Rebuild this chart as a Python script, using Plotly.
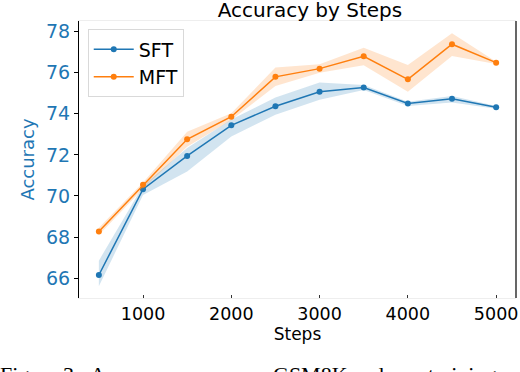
import plotly.graph_objects as go

# steps on the x axis
steps = [500, 1000, 1500, 2000, 2500, 3000, 3500, 4000, 4500, 5000]

# mean accuracy and band edges
sft_mean = [66.15, 70.33, 71.95, 73.44, 74.37, 75.07, 75.28, 74.50, 74.73, 74.32]
sft_upper = [66.85, 70.50, 72.33, 73.72, 74.80, 75.52, 75.40, 74.59, 74.87, 74.38]
sft_lower = [65.60, 70.05, 71.19, 72.90, 73.95, 74.68, 75.16, 74.38, 74.55, 74.25]

mft_mean = [68.27, 70.54, 72.76, 73.86, 75.80, 76.20, 76.80, 75.68, 77.39, 76.49]
mft_upper = [68.45, 70.65, 73.13, 74.03, 76.25, 76.41, 77.22, 76.38, 77.92, 76.54]
mft_lower = [68.10, 70.35, 72.40, 73.70, 75.36, 76.00, 76.36, 75.08, 76.82, 76.43]

y_ticks = [66, 68, 70, 72, 74, 76, 78]
x_ticks = [1000, 2000, 3000, 4000, 5000]

# caption words under the chart (cut off by the page edge)
caption_words = ["Figure 3:", "Accuracy on", "GSM8K", "under", "training"]

BLUE = "#1f77b4"
ORANGE = "#ff7f0e"
FONT = "DejaVu Sans"

fig = go.Figure()


def add_series(name, mean, upper, lower, color, fill):
    # band: upper edge first, then lower edge filled up to it
    fig.add_trace(go.Scatter(x=steps, y=upper, mode="lines", line=dict(width=0),
                             hoverinfo="skip", showlegend=False))
    fig.add_trace(go.Scatter(x=steps, y=lower, mode="lines", line=dict(width=0),
                             fill="tonexty", fillcolor=fill,
                             hoverinfo="skip", showlegend=False))
    fig.add_trace(go.Scatter(x=steps, y=mean, mode="lines+markers", name=name,
                             line=dict(color=color, width=1.5),
                             marker=dict(color=color, size=6)))


add_series("SFT", sft_mean, sft_upper, sft_lower, BLUE, "rgba(31,119,180,0.2)")
add_series("MFT", mft_mean, mft_upper, mft_lower, ORANGE, "rgba(255,127,14,0.2)")

fig.update_layout(
    width=520, height=372,
    paper_bgcolor="white", plot_bgcolor="white",
    margin=dict(l=79, r=2, t=21, b=74),
    font=dict(family=FONT, size=17, color="black"),
    title=dict(text="Accuracy by Steps", x=0.596, xanchor="center",
               y=0.972, yanchor="middle", font=dict(size=20, color="black")),
    legend=dict(x=0.02, y=0.97, xanchor="left", yanchor="top",
                traceorder="normal", itemwidth=40,
                bgcolor="rgba(255,255,255,0.8)", bordercolor="#d9d9d9",
                borderwidth=1, font=dict(size=19)),
    xaxis=dict(
        range=[275, 5225], tickvals=x_ticks, showgrid=False, zeroline=False,
        showline=True, linecolor="#eeeeee", linewidth=1, mirror=True,
        ticks="inside", ticklen=3, tickcolor="#333333",
        ticklabeloverflow="allow",
        tickfont=dict(size=17.5, color="black"),
        title=dict(text="Steps", font=dict(size=17, color="black"), standoff=2),
    ),
    yaxis=dict(
        range=[65.03, 78.52], tickvals=y_ticks, showgrid=False, zeroline=False,
        showline=True, linecolor="black", linewidth=1.2,
        ticks="outside", ticklen=4, tickcolor="black",
        tickfont=dict(size=19, color=BLUE),
        title=dict(text="Accuracy", font=dict(size=18, color=BLUE), standoff=6),
    ),
)

# right spine is dark, top spine faint
fig.add_shape(type="line", xref="paper", yref="paper", x0=1, x1=1, y0=0, y1=1,
              line=dict(color="black", width=1.2))

# cropped caption line at the bottom of the page
for word, px in zip(caption_words, [-2, 88, 272, 350, 428]):
    fig.add_annotation(text=word, xref="paper", yref="paper",
                       x=(px - 79) / 439, y=-0.225,
                       xanchor="left", yanchor="top", showarrow=False,
                       font=dict(family="Liberation Serif", size=22, color="black"))

fig.write_html("out.html", config={"displayModeBar": False},
               post_script="document.body.style.margin='0';")
